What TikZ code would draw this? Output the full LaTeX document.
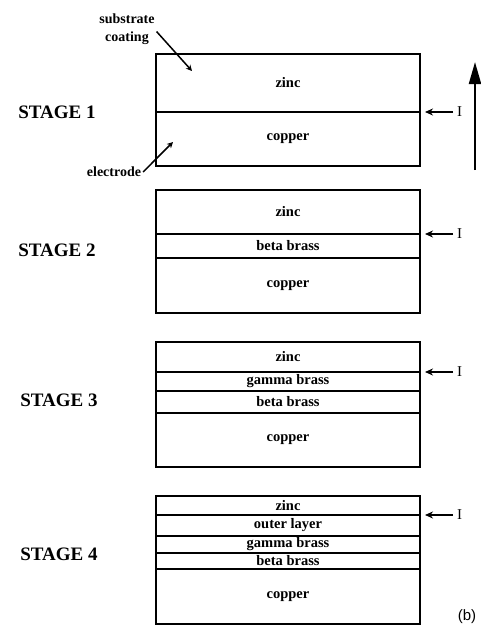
\documentclass[tikz,border=0pt]{standalone}
\usepackage{fontspec}
\setmainfont{Liberation Serif}
\setsansfont{Liberation Sans}
\usetikzlibrary{arrows.meta, positioning}
\tikzset{
  every picture/.style={line width=2pt},
  layer/.style={draw, minimum width=264pt, inner sep=0pt, outer sep=0pt, font=\fontsize{14.5}{16}\selectfont\bfseries},
  stage/.style={anchor=west, font=\fontsize{19}{22}\selectfont\bfseries},
  note/.style={font=\fontsize{14}{18}\selectfont\bfseries, align=center, inner sep=1pt},
  interface/.style={-{Stealth[length=8pt, width=7pt]}, line width=2pt, shorten >=5pt},
  ilabel/.style={font=\fontsize{15}{17}\selectfont, inner sep=3pt},
  pointer/.style={-{Stealth[length=6pt, width=6pt]}, line width=1.5pt},
}
\begin{document}
\begin{tikzpicture}[x=1pt, y=-1pt]
  \useasboundingbox (0,0) rectangle (480,627);
  % stage 1
  \node[stage] (st1) at (14,112) {STAGE 1};
  \node[layer, anchor=north west, minimum height=58pt] (s1zinc) at (156,54) {zinc};
  \node[layer, below=0pt of s1zinc, minimum height=54pt] (s1copper) {copper};
  \node[ilabel, right=33pt of s1zinc.south east, anchor=west] (i1) {I};
  \draw[interface] (i1.west) -- (s1zinc.south east);
  \node[note] (subst) at (127,29) {substrate\\coating};
  \coordinate (substtip) at (192,71);
  \draw[pointer] (subst.-5) -- (substtip);
  \node[note] (elec) at (114,172) {electrode};
  \coordinate (electip) at (173,142);
  \draw[pointer] (elec.east) -- (electip);
  % growth direction
  \coordinate (grow0) at (475,170);
  \coordinate (grow1) at (475,62);
  \draw[-{Triangle[length=22pt, width=12pt]}, line width=2.2pt] (grow0) -- (grow1);
  % stage 2
  \node[stage] (st2) at (14,250) {STAGE 2};
  \node[layer, anchor=north west, minimum height=44pt] (s2zinc) at (156,190) {zinc};
  \node[layer, below=0pt of s2zinc, minimum height=24pt] (s2beta) {beta brass};
  \node[layer, below=0pt of s2beta, minimum height=55pt] (s2copper) {copper};
  \node[ilabel, right=33pt of s2zinc.south east, anchor=west] (i2) {I};
  \draw[interface] (i2.west) -- (s2zinc.south east);
  % stage 3
  \node[stage] (st3) at (16,400) {STAGE 3};
  \node[layer, anchor=north west, minimum height=30pt] (s3zinc) at (156,342) {zinc};
  \node[layer, below=0pt of s3zinc, minimum height=19pt] (s3gamma) {gamma brass};
  \node[layer, below=0pt of s3gamma, minimum height=22pt] (s3beta) {beta brass};
  \node[layer, below=0pt of s3beta, minimum height=54pt] (s3copper) {copper};
  \node[ilabel, right=33pt of s3zinc.south east, anchor=west] (i3) {I};
  \draw[interface] (i3.west) -- (s3zinc.south east);
  % stage 4
  \node[stage] (st4) at (16,554) {STAGE 4};
  \node[layer, anchor=north west, minimum height=19pt] (s4zinc) at (156,496) {zinc};
  \node[layer, below=0pt of s4zinc, minimum height=21pt] (s4outer) {outer layer};
  \node[layer, below=0pt of s4outer, minimum height=17pt] (s4gamma) {gamma brass};
  \node[layer, below=0pt of s4gamma, minimum height=16pt] (s4beta) {beta brass};
  \node[layer, below=0pt of s4beta, minimum height=55pt] (s4copper) {copper};
  \node[ilabel, right=33pt of s4zinc.south east, anchor=west] (i4) {I};
  \draw[interface] (i4.west) -- (s4zinc.south east);
  \node[font=\sffamily\fontsize{15}{17}\selectfont] (panel) at (467,617) {(b)};
\end{tikzpicture}
\end{document}
